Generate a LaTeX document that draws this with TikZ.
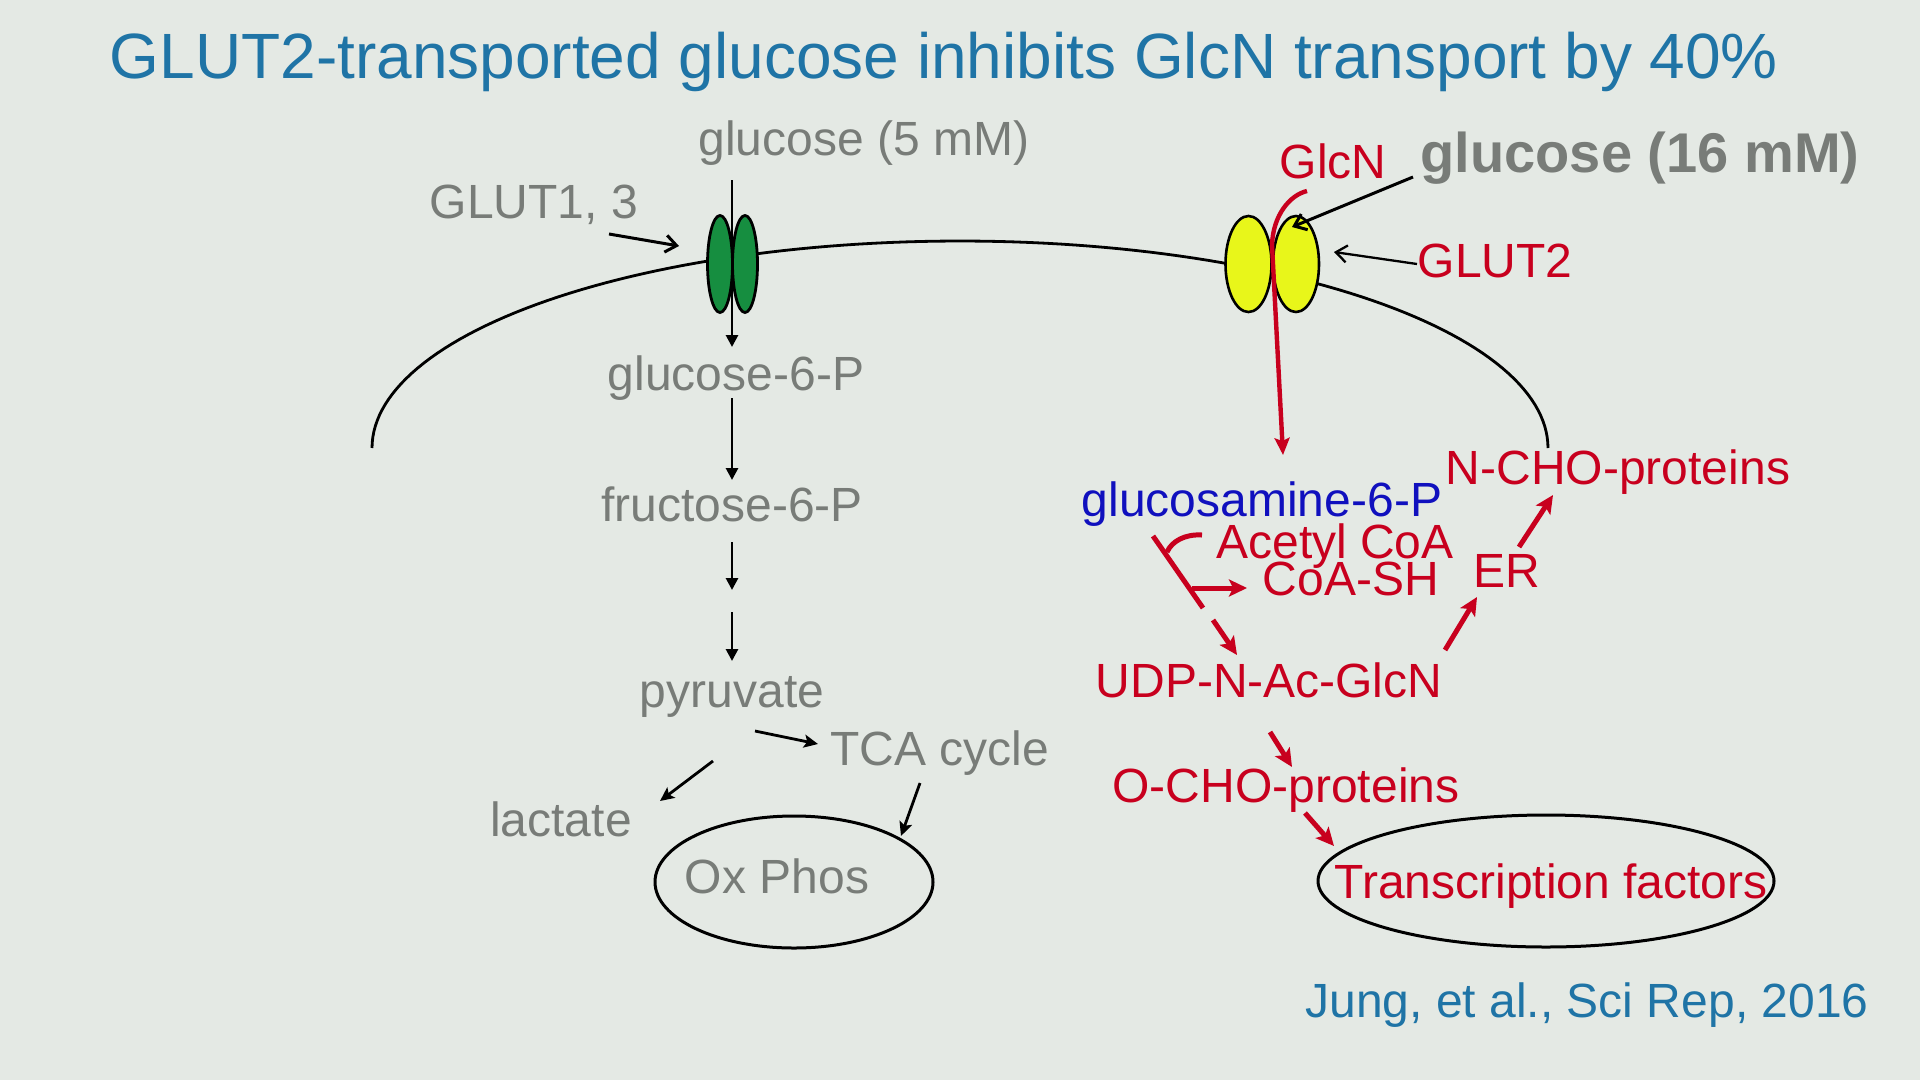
\documentclass[tikz,border=0pt]{standalone}
\usepackage{fontspec}
\setmainfont{Liberation Sans}
\usetikzlibrary{arrows.meta,shapes.geometric}
\definecolor{bg}{RGB}{228,233,228}
\definecolor{ttl}{RGB}{31,116,166}
\definecolor{gtx}{RGB}{120,124,120}
\definecolor{rd}{RGB}{200,0,30}
\definecolor{bltx}{RGB}{16,16,190}
\definecolor{grn}{RGB}{22,142,64}
\definecolor{ylw}{RGB}{232,246,26}
\begin{document}
\begin{tikzpicture}[x=1pt,y=-1pt,
  txt/.style={inner sep=0pt, anchor=base, font=\fontsize{48}{56}\selectfont},
  gtxt/.style={txt, text=gtx},
  rtxt/.style={txt, text=rd},
  bltxt/.style={txt, text=bltx},
  ttxt/.style={inner sep=0pt, anchor=base, text=ttl},
  chan/.style={ellipse, draw=black, line width=2.8pt, inner sep=0pt, minimum width=25pt, minimum height=97pt},
  ychan/.style={ellipse, draw=black, line width=2.6pt, fill=ylw, inner sep=0pt, minimum width=46pt, minimum height=96pt},
  oval/.style={ellipse, draw=black, line width=3pt, inner sep=0pt},
  blk/.style={draw=black, line width=2.8pt, -{Triangle[length=12pt,width=12pt]}},
  blks/.style={draw=black, line width=2.8pt, -{Stealth[length=14pt,width=13pt,inset=3pt]}},
  barb/.style={draw=black, line width=3pt, -{Straight Barb[length=11pt,width=17pt]}},
  rarr/.style={draw=rd, line width=5pt, -{Stealth[length=18pt,width=17pt,inset=4pt]}},
  rline/.style={draw=rd, line width=5pt}
]
\useasboundingbox (0,0) rectangle (1920,1080);
\fill[bg] (0,0) rectangle (1920,1080);

% membrane
\draw[line width=2.8pt] plot[domain=180:0, samples=120] ({960+588*cos(\x)},{448-207*sin(\x)});

% title and reference
\node[ttxt, font=\fontsize{64}{72}\selectfont] (title) at (944,78) {GLUT2-transported glucose inhibits GlcN transport by 40\%};
\node[ttxt, font=\fontsize{48}{56}\selectfont] (ref) at (1587,1017) {Jung, et al., Sci Rep, 2016};

% left pathway
\node[chan, fill=grn] (g1a) at (720,264) {};
\node[chan, fill=grn] (g1b) at (745,264) {};
\node[gtxt] (glc5) at (864,155) {glucose (5 mM)};
\node[gtxt] (glut13) at (534,218) {GLUT1, 3};
\node[gtxt] (g6p) at (736,390) {glucose-6-P};
\node[gtxt] (f6p) at (732,521) {fructose-6-P};
\node[gtxt] (pyr) at (732,707) {pyruvate};
\node[gtxt] (tca) at (940,765) {TCA cycle};
\node[gtxt] (lac) at (561,836) {lactate};
\node[oval, minimum width=278pt, minimum height=132pt] (oxe) at (794,882) {};
\node[gtxt] (ox) at (777,893) {Ox Phos};

\coordinate (c1) at (732,180); \coordinate (c2) at (732,347);
\coordinate (c3) at (732,398); \coordinate (c4) at (732,480);
\coordinate (c5) at (732,542); \coordinate (c6) at (732,590);
\coordinate (c7) at (732,612); \coordinate (c8) at (732,661);
\coordinate (c9) at (755,731); \coordinate (c10) at (818,744);
\coordinate (c11) at (713,761); \coordinate (c12) at (660,801);
\coordinate (c13) at (920,783); \coordinate (c14) at (901,836);
\coordinate (c15) at (609,234); \coordinate (c16) at (679,246);
\draw[blk] (c1) -- (c2);
\draw[blk] (c3) -- (c4);
\draw[blk] (c5) -- (c6);
\draw[blk] (c7) -- (c8);
\draw[blks] (c9) -- (c10);
\draw[blks] (c11) -- (c12);
\draw[blks] (c13) -- (c14);
\draw[barb] (c15) -- (c16);

% right pathway
\node[ychan] (y1) at (1248.5,264) {};
\node[ychan] (y2) at (1296,264) {};
\node[rtxt] (glcn) at (1333,178) {GlcN};
\node[inner sep=0pt, anchor=base, text=gtx, font=\fontsize{56}{64}\selectfont\bfseries] (glc16) at (1640,172) {glucose (16 mM)};
\node[rtxt] (glut2) at (1495,277) {GLUT2};
\node[bltxt] (gln6p) at (1262,516) {glucosamine-6-P};
\node[rtxt] (ncho) at (1618,484) {N-CHO-proteins};
\node[rtxt] (acoa) at (1335,558) {Acetyl CoA};
\node[rtxt] (coash) at (1351,595) {CoA-SH};
\node[rtxt] (er) at (1507,587) {ER};
\node[rtxt] (udp) at (1269,697) {UDP-N-Ac-GlcN};
\node[rtxt] (ocho) at (1286,802) {O-CHO-proteins};
\node[oval, minimum width=456pt, minimum height=132pt] (tfe) at (1546,881) {};
\node[rtxt] (tf) at (1551,898) {Transcription factors};

\coordinate (d1) at (1413,177); \coordinate (d2) at (1292,227);
\coordinate (d3) at (1417,264); \coordinate (d4) at (1334,252);
\coordinate (r0) at (1307,191); \coordinate (r1) at (1272,245); \coordinate (r2) at (1283,455);
\coordinate (r3) at (1153,536); \coordinate (r4) at (1203,608);
\coordinate (r5) at (1202,535); \coordinate (r6) at (1167,552);
\coordinate (r7) at (1192,588); \coordinate (r8) at (1247,588);
\coordinate (r9) at (1213,620); \coordinate (r10) at (1237,655);
\coordinate (r11) at (1445,650); \coordinate (r12) at (1477,597);
\coordinate (r13) at (1519,547); \coordinate (r14) at (1553,495);
\coordinate (r15) at (1270,732); \coordinate (r16) at (1292,767);
\coordinate (r17) at (1305,813); \coordinate (r18) at (1334,846);

\draw[barb] (d1) -- (d2);
\draw[barb, line width=2.3pt] (d3) -- (d4);
\draw[draw=rd, line width=4.4pt, -{Stealth[length=17pt,width=15pt,inset=3pt]}] (r0) .. controls (1290,195) and (1273,215) .. (r1) -- (r2);
\draw[rline] (r3) -- (r4);
\draw[rline] (r5) .. controls (1185,534) and (1172,541) .. (r6);
\draw[rarr] (r7) -- (r8);
\draw[rarr] (r9) -- (r10);
\draw[rarr] (r11) -- (r12);
\draw[rarr] (r13) -- (r14);
\draw[rarr] (r15) -- (r16);
\draw[rarr] (r17) -- (r18);
\end{tikzpicture}
\end{document}
